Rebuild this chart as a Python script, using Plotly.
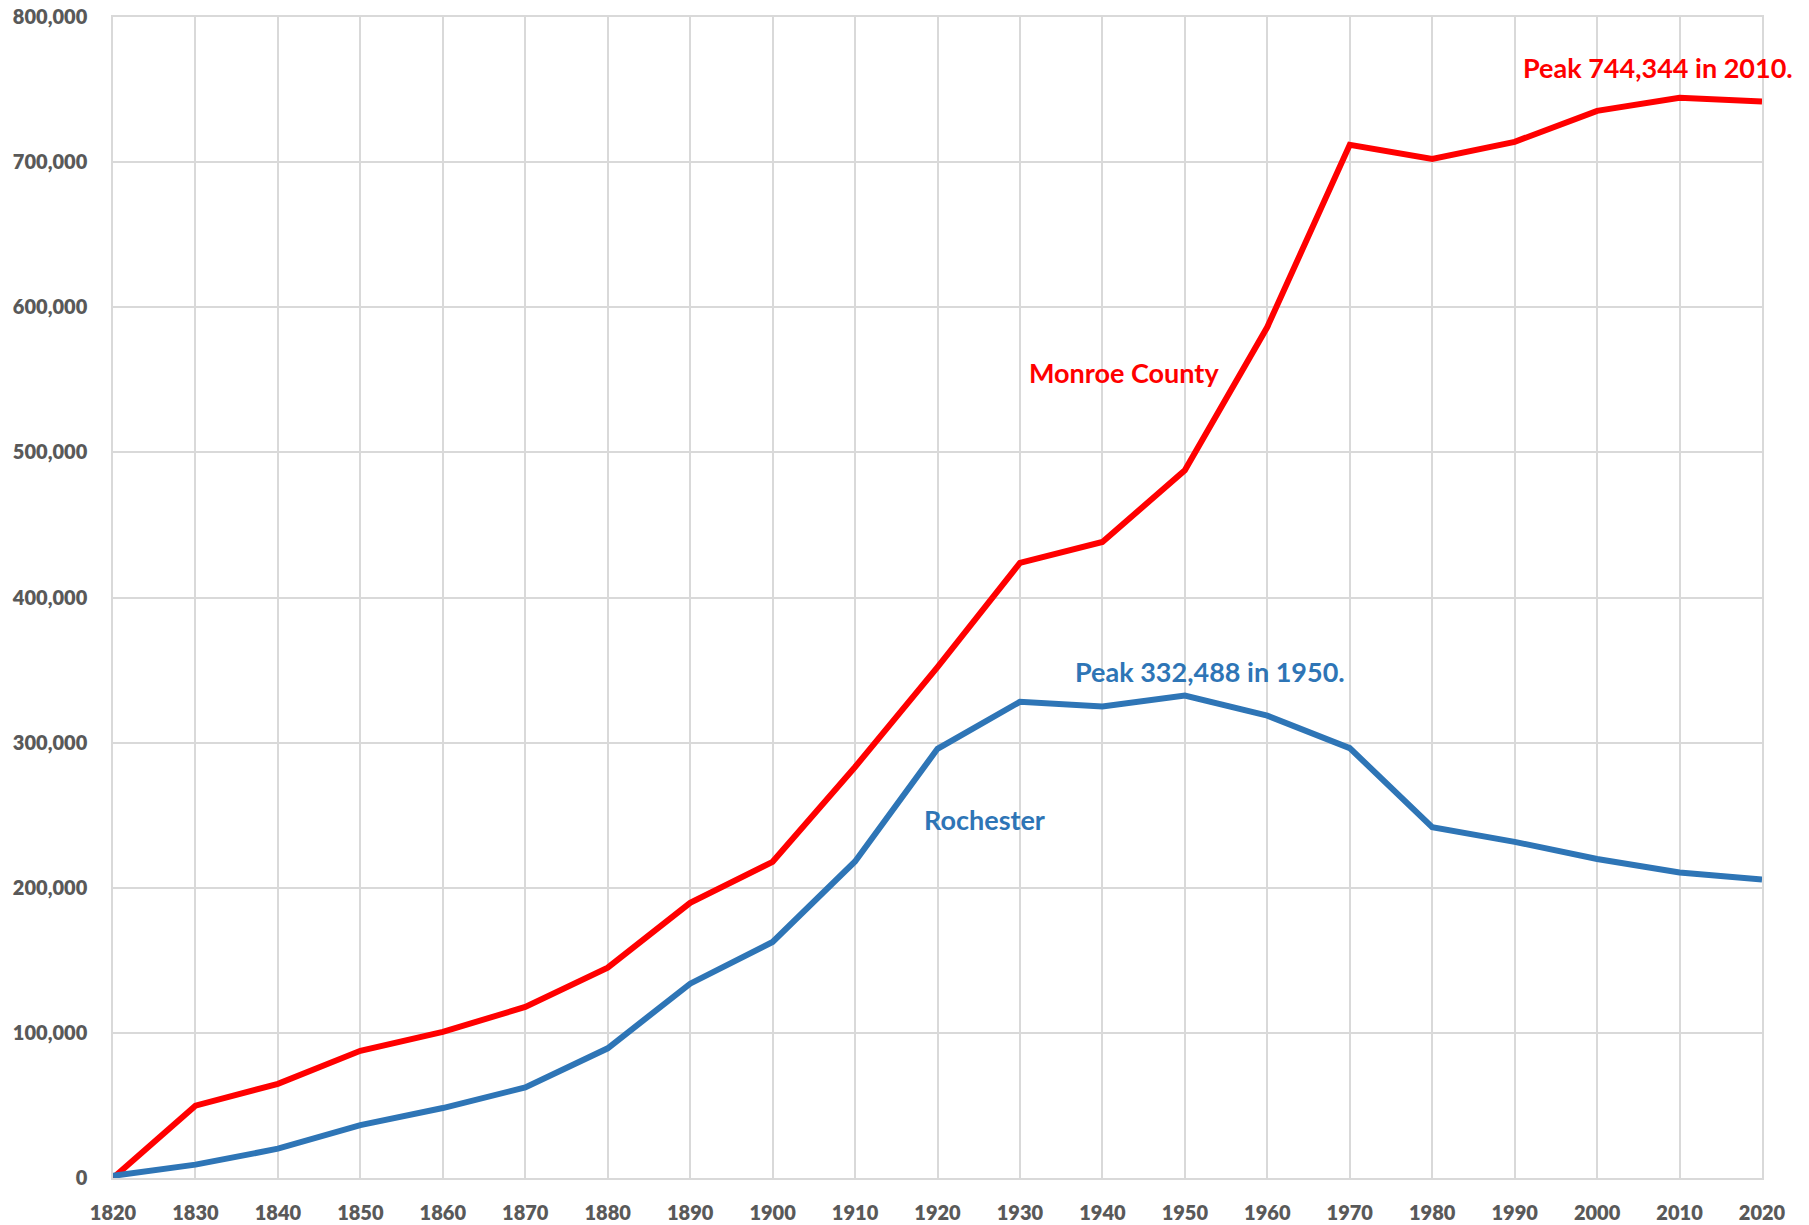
import plotly.graph_objects as go

years = [1820, 1830, 1840, 1850, 1860, 1870, 1880, 1890, 1900, 1910, 1920,
         1930, 1940, 1950, 1960, 1970, 1980, 1990, 2000, 2010, 2020]
monroe = [0, 49855, 64902, 87650, 100648, 117868, 144903, 189586, 217854, 283212, 352034,
          423881, 438230, 487632, 586387, 711917, 702238, 713968, 735343, 744344, 741770]
rochester = [1502, 9207, 20191, 36403, 48204, 62386, 89366, 133896, 162608, 218149, 295750,
             328132, 324975, 332488, 318611, 296233, 241741, 231636, 219773, 210565, 205695]
y_ticks = [0, 100000, 200000, 300000, 400000, 500000, 600000, 700000, 800000]

RED = "#FF0000"
BLUE = "#2E75B6"
GRID = "#D9D9D9"
TXT = "#595959"
FONT = "Lato"

fig = go.Figure()
fig.add_trace(go.Scatter(x=years, y=monroe, mode="lines", line=dict(color=RED, width=6),
                         name="Monroe County", cliponaxis=False))
fig.add_trace(go.Scatter(x=years, y=rochester, mode="lines", line=dict(color=BLUE, width=6),
                         name="Rochester", cliponaxis=False))

ann_font = dict(family=FONT, size=27, weight="bold")
fig.add_annotation(x=1942.6, y=554700, text="Monroe County", showarrow=False,
                   xanchor="center", yanchor="middle", font=dict(color=RED, **ann_font))
fig.add_annotation(x=2007.4, y=765500, text="Peak 744,344 in 2010.", showarrow=False,
                   xanchor="center", yanchor="middle", font=dict(color=RED, **ann_font))
fig.add_annotation(x=1953.0, y=348700, text="Peak 332,488 in 1950.", showarrow=False,
                   xanchor="center", yanchor="middle", font=dict(color=BLUE, **ann_font))
fig.add_annotation(x=1925.7, y=246700, text="Rochester", showarrow=False,
                   xanchor="center", yanchor="middle", font=dict(color=BLUE, **ann_font))

fig.update_layout(
    width=1809, height=1225,
    margin=dict(l=113, r=47, t=17, b=47),
    paper_bgcolor="white", plot_bgcolor="white",
    showlegend=False,
    hovermode=False,
    font=dict(family=FONT, color=TXT),
)
fig.update_xaxes(range=[1820, 2020], tickvals=years, ticktext=[str(y) for y in years],
                 showgrid=True, gridcolor=GRID, gridwidth=1.5, zeroline=False,
                 showline=True, linecolor=GRID, linewidth=1.5, mirror=True,
                 tickfont=dict(family=FONT, size=20, color=TXT, weight=800),
                 ticklabelstandoff=16, automargin=False, ticklabeloverflow="allow")
fig.update_yaxes(range=[0, 800000], tickvals=y_ticks, ticktext=[f"{v:,}" for v in y_ticks],
                 showgrid=True, gridcolor=GRID, gridwidth=1.5, zeroline=False,
                 showline=True, linecolor=GRID, linewidth=1.5, mirror=True,
                 tickfont=dict(family=FONT, size=20, color=TXT, weight=800),
                 ticklabelstandoff=20, automargin=False, ticklabeloverflow="allow")

fig.write_html("out.html", config={"displayModeBar": False},
               post_script="document.body.style.margin='0';document.body.style.overflow='hidden';")
